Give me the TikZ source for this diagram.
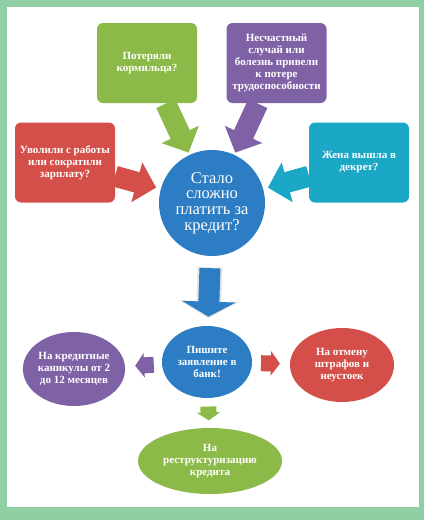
\documentclass[tikz,border=0pt]{standalone}
\usepackage{fontspec}
\setmainfont{Liberation Serif}
\usepackage{xcolor}
\usetikzlibrary{positioning, arrows.meta, calc, shapes.geometric}

\definecolor{cframe}{HTML}{90CFA4}
\definecolor{cgreen}{HTML}{8CBA48}
\definecolor{cpurple}{HTML}{7F62A6}
\definecolor{cred}{HTML}{D44F4A}
\definecolor{cteal}{HTML}{1BA7C6}
\definecolor{cblue}{HTML}{2C7DC3}

\begin{document}
\begin{tikzpicture}[
  x=1pt, y=-1pt,
  every node/.style={text=white, align=center},
  qbox/.style={rounded corners=6pt, minimum width=100pt, minimum height=80pt,
               inner sep=2pt, font=\fontsize{11}{12}\selectfont\bfseries},
  bigcirc/.style={circle, fill=cblue, minimum size=106pt, inner sep=0pt,
                  font=\fontsize{16.5}{15.7}\selectfont},
  oval/.style={ellipse, inner sep=0pt, font=\fontsize{11}{12}\selectfont\bfseries},
  toparr/.style={line width=21pt, -{Triangle[width=40pt, length=20pt]}},
  smarr/.style={line width=16pt, -{Triangle[width=24pt, length=9pt]}}
]

% ---- Frame ----
\fill[cframe] (0,0) rectangle (424,520);
\fill[white] (7,7) rectangle (419,507);

% ---- Question boxes ----
\node[qbox, fill=cgreen]  (loss) at (147,63)    {Потеряли\\кормильца?};
\node[qbox, fill=cpurple] (ill)  at (276.5,63)  {Несчастный\\случай или\\болезнь привели\\к потере\\трудоспособности};
\node[qbox, fill=cred]    (job)  at (65,162.5)  {Уволили с работы\\или сократили\\зарплату?};
\node[qbox, fill=cteal]   (wife) at (359,162.5) {Жена вышла в\\декрет?};

% ---- Centre circle ----
\node[bigcirc] (hard) at (212,203) {Стало\\сложно\\платить за\\кредит?};

% ---- Answer ovals ----
\node[oval, fill=cblue, minimum width=90pt, minimum height=72pt]    (apply)   at (207,362) {Пишите\\заявление в\\банк!};
\node[oval, fill=cpurple, minimum width=102pt, minimum height=74pt] (holiday) at (74,369)  {На кредитные\\каникулы от 2\\до 12 месяцев};
\node[oval, fill=cred, minimum width=104pt, minimum height=74pt]    (fines)   at (342,365) {На отмену\\штрафов и\\неустоек};
\node[oval, fill=cgreen, minimum width=144pt, minimum height=66pt]  (restr)   at (210,461) {На\\реструктуризацию\\кредита};

% ---- Arrows: questions -> circle ----
\foreach \s/\col in {loss/cgreen, ill/cpurple}
  \draw[toparr, \col] ($(\s)!0.29!(hard)$) -- ($(\s)!0.64!(hard)$);
\foreach \s/\col in {job/cred, wife/cteal}
  \draw[toparr, \col] ($(\s)!0.34!(hard)$) -- ($(\s)!0.62!(hard)$);

% ---- Arrow: circle -> apply ----
\draw[line width=25pt, black!10, -{Triangle[width=58pt, length=17pt]}]
  ($(hard)!0.405!(apply)$) -- ($(hard)!0.725!(apply)$);
\draw[line width=21pt, cblue, -{Triangle[width=53pt, length=15pt]}]
  ($(hard)!0.41!(apply)$) -- ($(hard)!0.715!(apply)$);

% ---- Arrows: apply -> answers ----
\draw[smarr, cpurple] ($(apply)!0.40!(holiday)$) -- ($(apply)!0.54!(holiday)$);
\draw[smarr, cred]    ($(apply)!0.40!(fines)$)   -- ($(apply)!0.54!(fines)$);
\draw[line width=16pt, cgreen, -{Triangle[width=23pt, length=8pt]}]
  ($(apply)!0.45!(restr)$) -- ($(apply)!0.59!(restr)$);

\end{tikzpicture}
\end{document}
